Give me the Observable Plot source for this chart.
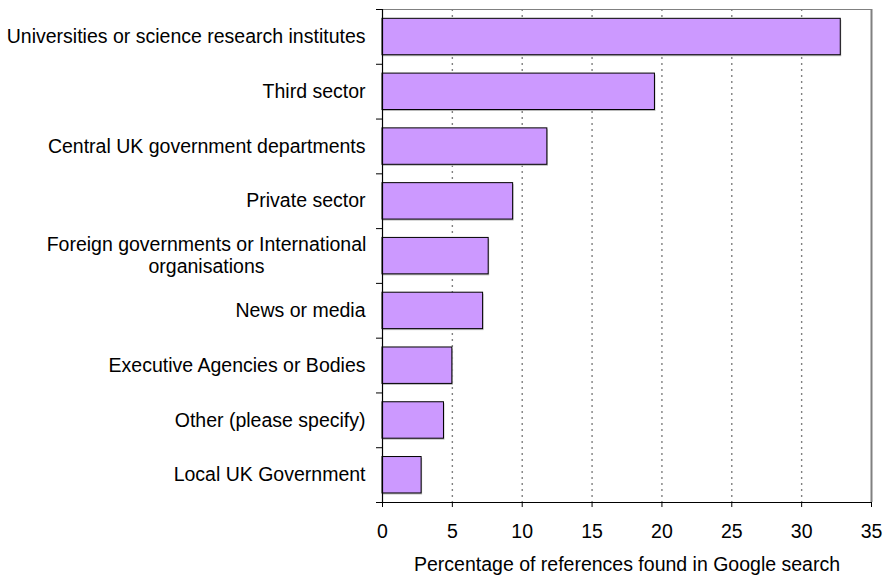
<!DOCTYPE html>
<html>
<head>
<meta charset="utf-8">
<script src="https://cdn.jsdelivr.net/npm/d3@7"></script>
<script src="https://cdn.jsdelivr.net/npm/@observablehq/plot@0.6"></script>
<style>
  html, body { margin: 0; padding: 0; background: #fff; }
  #chart svg { display: block; }
</style>
</head>
<body>
<div id="chart"></div>
<script>
const categories = [
  "Universities or science research institutes",
  "Third sector",
  "Central UK government departments",
  "Private sector",
  "Foreign governments or International organisations",
  "News or media",
  "Executive Agencies or Bodies",
  "Other (please specify)",
  "Local UK Government"
];
const values = [32.8, 19.5, 11.8, 9.35, 7.6, 7.2, 5.0, 4.4, 2.8];
const xTicks = [0, 5, 10, 15, 20, 25, 30, 35];
const xLabel = "Percentage of references found in Google search";

const data = categories.map((c, i) => ({ category: c, value: values[i], i }));
const wrapped = { "Foreign governments or International organisations": ["Foreign governments or International", "organisations"] };
const single = data.filter(d => !wrapped[d.category]);
const multi = data.filter(d => wrapped[d.category]);

const chart = Plot.plot({
  width: 884,
  height: 576,
  marginLeft: 382,
  marginRight: 13,
  marginTop: 9,
  marginBottom: 74,
  style: { fontFamily: "'Liberation Sans', Arial, sans-serif", fontSize: "19.5px", background: "#fff", color: "#000" },
  x: { domain: [0, 35] },
  y: { domain: [0, categories.length], reverse: true },
  marks: [
    Plot.gridX(xTicks.slice(1, -1), { stroke: "#808080", strokeOpacity: 1, strokeWidth: 1.4, strokeDasharray: "2,4" }),
    Plot.ruleY([0], { stroke: "#808080", strokeWidth: 1.2 }),
    Plot.ruleX([35], { stroke: "#808080", strokeWidth: 2 }),
    Plot.rectX(data, { x1: 0, x2: "value", y1: d => d.i + 0.17, y2: d => d.i + 0.835, fill: "#bbbbbb", dx: 1, dy: 1.5 }),
    Plot.rectX(data, { x1: 0, x2: "value", y1: d => d.i + 0.17, y2: d => d.i + 0.835, fill: "#CC99FF", stroke: "#000", strokeWidth: 1 }),
    Plot.ruleX([0], { stroke: "#000", strokeWidth: 1.2 }),
    Plot.ruleY([categories.length], { stroke: "#000", strokeWidth: 1.2 }),
    Plot.axisY({ ticks: d3.range(0, categories.length + 1), tickFormat: () => "", tickSize: 6, stroke: "#000" }),
    Plot.axisX({ ticks: xTicks, tickSize: 5, tickPadding: 17, tickFormat: d3.format("d"), label: null, stroke: "#000" }),
    Plot.text(single, { y: d => d.i + 0.5, text: "category", frameAnchor: "left", textAnchor: "end", dx: -17, fill: "#000" }),
    Plot.text(multi, { y: d => d.i + 0.5, text: d => wrapped[d.category][0], frameAnchor: "left", textAnchor: "middle", dx: -176, dy: -11, fill: "#000" }),
    Plot.text(multi, { y: d => d.i + 0.5, text: d => wrapped[d.category][1], frameAnchor: "left", textAnchor: "middle", dx: -176, dy: 10.5, fill: "#000" }),
    Plot.text([xLabel], { text: d => d, frameAnchor: "bottom", lineAnchor: "top", dy: 55, fill: "#000" })
  ]
});
document.getElementById("chart").appendChild(chart);
</script>
</body>
</html>
